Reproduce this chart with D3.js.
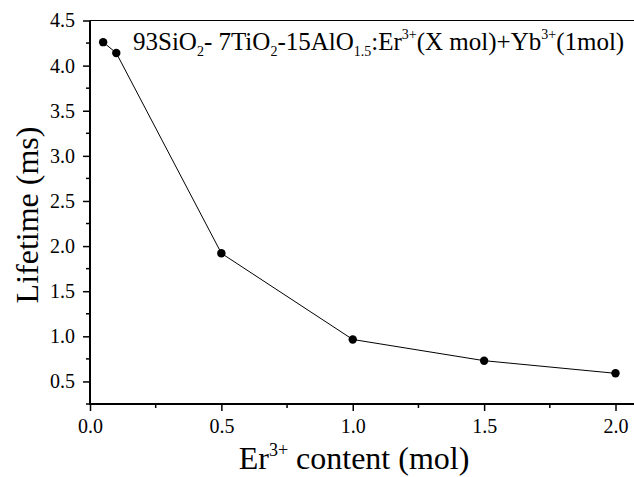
<!DOCTYPE html>
<html>
<head>
<meta charset="utf-8">
<script src="https://cdn.jsdelivr.net/npm/d3@7"></script>
<style>
  body { margin: 0; background: #fff; }
  svg text { font-family: "Liberation Serif", "DejaVu Serif", "Times New Roman", serif; }
</style>
</head>
<body>
<svg id="chart"></svg>
<script>
// Er3+ content (mol) and measured lifetime (ms)
const erContent = [0.05, 0.1, 0.5, 1.0, 1.5, 2.0];
const lifetime = [4.26, 4.14, 1.92, 0.965, 0.73, 0.59];
const xTicks = [0, 0.5, 1.0, 1.5, 2.0];
const yTicks = [0.5, 1.0, 1.5, 2.0, 2.5, 3.0, 3.5, 4.0, 4.5];

const width = 634, height = 477;
const svg = d3.select('#chart').attr('width', width).attr('height', height);

const x = d3.scaleLinear().domain([0, 2]).range([90, 615.5]);
const y = d3.scaleLinear().domain([0.25, 4.5]).range([404, 20.5]);

const xRight = x(2.1);

// frame top
svg.append('line')
  .attr('x1', x(0)).attr('x2', xRight)
  .attr('y1', y(4.5)).attr('y2', y(4.5))
  .attr('stroke', '#000').attr('stroke-width', 1);

const xMinor = d3.range(0.25, 2.1, 0.5);
const yMinor = d3.range(0.25, 4.5, 0.5);

const xAxis = svg.append('g').attr('transform', `translate(0,${y(0.25)})`);
xAxis.call(d3.axisBottom(x).tickValues(xTicks).tickFormat(d3.format('.1f')).tickSize(7).tickSizeOuter(0))
  .call(g => g.select('.domain').remove());
xAxis.attr('font-family', null);
xAxis.selectAll('.tick line').attr('stroke-width', 1.5);
xAxis.selectAll('.tick text').attr('font-size', 20).attr('y', 29).attr('dy', null);
xAxis.selectAll('.minor').data(xMinor).enter().append('line')
  .attr('x1', d => x(d)).attr('x2', d => x(d)).attr('y1', 0).attr('y2', 4)
  .attr('stroke', '#000').attr('stroke-width', 1.5);
xAxis.append('line').attr('x1', x(0) - 1).attr('x2', xRight).attr('y1', 0).attr('y2', 0)
  .attr('stroke', '#000').attr('stroke-width', 2);

const yAxis = svg.append('g').attr('transform', `translate(${x(0)},0)`);
yAxis.call(d3.axisLeft(y).tickValues(yTicks).tickFormat(d3.format('.1f')).tickSize(7).tickSizeOuter(0))
  .call(g => g.select('.domain').remove());
yAxis.attr('font-family', null);
yAxis.selectAll('.tick line').attr('stroke-width', 1.5);
yAxis.selectAll('.tick text').attr('font-size', 20).attr('x', -15);
yAxis.selectAll('.minor').data(yMinor).enter().append('line')
  .attr('x1', -4).attr('x2', 0).attr('y1', d => y(d)).attr('y2', d => y(d))
  .attr('stroke', '#000').attr('stroke-width', 1.5);
yAxis.append('line').attr('x1', 0).attr('x2', 0).attr('y1', y(4.5)).attr('y2', y(0.25) + 1)
  .attr('stroke', '#000').attr('stroke-width', 2);

// data line and markers
const pts = erContent.map((c, i) => [c, lifetime[i]]);
svg.append('path')
  .datum(pts)
  .attr('fill', 'none').attr('stroke', '#000').attr('stroke-width', 1)
  .attr('d', d3.line().x(d => x(d[0])).y(d => y(d[1])));
svg.selectAll('.dot').data(pts).enter().append('circle')
  .attr('cx', d => x(d[0])).attr('cy', d => y(d[1])).attr('r', 4.2).attr('fill', '#000');

// axis titles
const xt = svg.append('text').attr('x', 354).attr('y', 469).attr('text-anchor', 'middle')
  .attr('font-size', 32);
xt.append('tspan').text('Er');
xt.append('tspan').text('3+').attr('font-size', 18).attr('dy', -13);
xt.append('tspan').text(' content (mol)').attr('dy', 13);

svg.append('text')
  .attr('transform', `translate(38,215) rotate(-90)`)
  .attr('text-anchor', 'middle').attr('font-size', 32)
  .text('Lifetime (ms)');

// composition label
const lab = svg.append('text').attr('x', 133).attr('y', 49.5).attr('font-size', 25);
const parts = [
  ['93SiO', 0], ['2', 1], ['- 7TiO', 0], ['2', 1], ['-15AlO', 0], ['1.5', 1],
  [':Er', 0], ['3+', 2], ['(X mol)+Yb', 0], ['3+', 2], ['(1mol)', 0]
];
let shift = 0;
parts.forEach(([t, k]) => {
  const target = k === 1 ? 6 : k === 2 ? -11 : 0;
  lab.append('tspan').text(t)
    .attr('dy', target - shift)
    .attr('font-size', k ? 14 : 25);
  shift = target;
});
</script>
</body>
</html>
